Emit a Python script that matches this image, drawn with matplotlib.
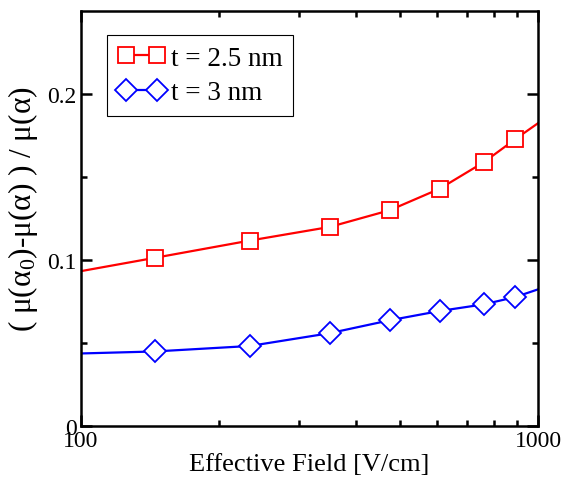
import matplotlib
matplotlib.use("Agg")
import matplotlib.pyplot as plt
from matplotlib.ticker import FixedLocator, NullFormatter, FixedFormatter

plt.rcParams['font.family'] = ['Liberation Serif', 'DejaVu Serif']
plt.rcParams['mathtext.fontset'] = 'custom'
plt.rcParams['mathtext.rm'] = 'Liberation Serif'
plt.rcParams['mathtext.it'] = 'Liberation Serif:italic'

# effective field sample points (V/cm); the ends only carry the line
field = [100, 145, 234, 350, 474, 610, 762, 892, 1000]
ratio_25nm = [0.0933, 0.1013, 0.1117, 0.1199, 0.1300, 0.1430, 0.1590, 0.1728, 0.1824]
ratio_3nm = [0.0437, 0.0449, 0.0482, 0.0559, 0.0637, 0.0693, 0.0733, 0.0777, 0.0823]
labels = ['t = 2.5 nm', 't = 3 nm']

fig = plt.figure(figsize=(5.74, 4.81), dpi=100)
ax = fig.add_axes([81 / 574, 1 - 427 / 481, 457 / 574, 415 / 481])

marks = list(range(1, len(field) - 1))
ax.plot(field, ratio_25nm, color='red', lw=1.6, marker='s', ms=12,
        mfc='white', mec='red', mew=1.3, markevery=marks, label=labels[0])
ax.plot(field, ratio_3nm, color='blue', lw=1.6, marker='D', ms=11,
        mfc='white', mec='blue', mew=1.3, markevery=marks, label=labels[1])

ax.set_xscale('log')
ax.set_xlim(100, 1000)
ax.set_ylim(0, 0.25)

ax.xaxis.set_major_locator(FixedLocator([100, 1000]))
ax.xaxis.set_major_formatter(FixedFormatter(['100', '1000']))
ax.xaxis.set_minor_locator(FixedLocator([200, 300, 400, 500, 600, 700, 800, 900]))
ax.xaxis.set_minor_formatter(NullFormatter())
ax.yaxis.set_major_locator(FixedLocator([0, 0.1, 0.2]))
ax.yaxis.set_major_formatter(FixedFormatter(['0', '0.1', '0.2']))
ax.yaxis.set_minor_locator(FixedLocator([0.05, 0.15]))

ax.tick_params(which='both', direction='in', top=True, right=True, width=1.8,
               labelsize=17, pad=3)
ax.tick_params(which='major', length=8)
ax.tick_params(which='minor', length=4)
for s in ax.spines.values():
    s.set_linewidth(1.8)

ax.set_xlabel('Effective Field [V/cm]', fontsize=19, labelpad=1)
ax.set_ylabel(r'( μ(α$_0$)-μ(α) ) / μ(α)', fontsize=22.5)
ax.yaxis.set_label_coords(-0.09, 0.525)

leg = ax.legend(loc='upper left', bbox_to_anchor=(0.057, 0.942), numpoints=2,
                fontsize=19.5, fancybox=False, edgecolor='black', framealpha=1,
                handlelength=1.75, handletextpad=0.2, borderpad=0.4,
                labelspacing=0.35, borderaxespad=0)
leg.get_frame().set_linewidth(0.8)

fig.savefig('out.png', dpi=100)
